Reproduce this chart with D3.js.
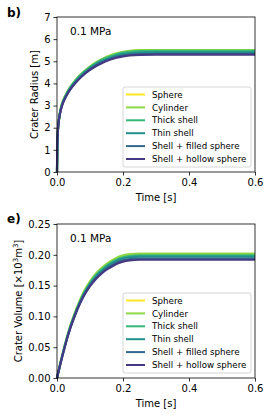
<!DOCTYPE html>
<html lang="en">
<head>
	<meta charset="UTF-8">
	<title>Crater growth</title>
	<script type="text/javascript" src="https://d3js.org/d3.v7.min.js"></script>
	<style>
		body { margin: 0; background: #fff; }
		svg { display: block; font-family: "DejaVu Sans", sans-serif; }
	</style>
</head>
<body>
	<svg id="chart" width="270" height="415"></svg>

	<script type="text/javascript">
		// time samples [s]
		var times = [0, 0.001, 0.003, 0.006, 0.01, 0.015, 0.02, 0.03, 0.04, 0.05, 0.06, 0.08, 0.1, 0.12, 0.14, 0.16, 0.18, 0.2, 0.22, 0.25, 0.3, 0.4, 0.5, 0.6];

		var seriesNames = ["Sphere", "Cylinder", "Thick shell", "Thin shell", "Shell + filled sphere", "Shell + hollow sphere"];
		var seriesColors = ["#fde725", "#8fd744", "#35b779", "#21918c", "#31688e", "#443983"];

		// crater radius [m]
		var radiusSphere   = [0, 1.30, 1.95, 2.40, 2.75, 3.05, 3.25, 3.55, 3.80, 4.00, 4.18, 4.48, 4.72, 4.92, 5.08, 5.20, 5.30, 5.37, 5.42, 5.45, 5.46, 5.46, 5.46, 5.46];
		var radiusCylinder = [0, 1.30, 1.95, 2.42, 2.78, 3.08, 3.28, 3.59, 3.84, 4.04, 4.22, 4.52, 4.77, 4.97, 5.13, 5.26, 5.36, 5.43, 5.47, 5.50, 5.51, 5.51, 5.51, 5.51];
		var radiusThick    = [0, 1.30, 1.95, 2.41, 2.77, 3.06, 3.26, 3.57, 3.82, 4.02, 4.20, 4.50, 4.74, 4.94, 5.10, 5.22, 5.32, 5.39, 5.43, 5.46, 5.47, 5.47, 5.47, 5.47];
		var radiusThin     = [0, 1.28, 1.93, 2.38, 2.73, 3.02, 3.22, 3.52, 3.77, 3.97, 4.14, 4.44, 4.68, 4.88, 5.03, 5.15, 5.25, 5.32, 5.36, 5.39, 5.40, 5.40, 5.40, 5.40];
		var radiusFilled   = [0, 1.27, 1.92, 2.37, 2.71, 3.00, 3.20, 3.50, 3.74, 3.94, 4.11, 4.40, 4.64, 4.83, 4.98, 5.10, 5.20, 5.26, 5.30, 5.33, 5.34, 5.34, 5.34, 5.34];
		var radiusHollow   = [0, 1.26, 1.90, 2.35, 2.69, 2.98, 3.18, 3.48, 3.72, 3.92, 4.09, 4.38, 4.61, 4.80, 4.95, 5.07, 5.16, 5.22, 5.26, 5.29, 5.30, 5.30, 5.30, 5.30];

		// crater volume [x10^3 m^3]
		var volumeSphere   = [0, 0.002, 0.007, 0.014, 0.023, 0.034, 0.045, 0.065, 0.083, 0.099, 0.113, 0.137, 0.155, 0.169, 0.179, 0.187, 0.193, 0.197, 0.199, 0.200, 0.200, 0.200, 0.200, 0.200];
		var volumeCylinder = [0, 0.002, 0.007, 0.014, 0.024, 0.035, 0.046, 0.066, 0.084, 0.100, 0.114, 0.139, 0.157, 0.171, 0.181, 0.189, 0.195, 0.199, 0.201, 0.202, 0.202, 0.202, 0.202, 0.202];
		var volumeThick    = [0, 0.002, 0.007, 0.014, 0.023, 0.034, 0.045, 0.065, 0.083, 0.098, 0.112, 0.136, 0.154, 0.168, 0.178, 0.186, 0.192, 0.196, 0.198, 0.199, 0.199, 0.199, 0.199, 0.199];
		var volumeThin     = [0, 0.002, 0.007, 0.014, 0.023, 0.034, 0.044, 0.064, 0.082, 0.097, 0.111, 0.135, 0.153, 0.166, 0.176, 0.184, 0.190, 0.194, 0.196, 0.197, 0.197, 0.197, 0.197, 0.197];
		var volumeFilled   = [0, 0.002, 0.007, 0.014, 0.023, 0.033, 0.044, 0.063, 0.081, 0.096, 0.110, 0.133, 0.150, 0.163, 0.173, 0.181, 0.187, 0.191, 0.193, 0.194, 0.194, 0.194, 0.194, 0.194];
		var volumeHollow   = [0, 0.002, 0.007, 0.013, 0.022, 0.033, 0.043, 0.063, 0.080, 0.095, 0.109, 0.132, 0.149, 0.162, 0.172, 0.179, 0.185, 0.189, 0.191, 0.192, 0.192, 0.192, 0.192, 0.192];

		var xTicks = [0, 0.2, 0.4, 0.6];
		var radiusTicks = [0, 1, 2, 3, 4, 5, 6, 7];
		var volumeTicks = [0, 0.05, 0.10, 0.15, 0.20, 0.25];

		var svg = d3.select("#chart");

		function drawPanel(opt) {
			var left = 57, right = 255;
			var x = d3.scaleLinear().domain([0, 0.6]).range([left, right]);
			var y = d3.scaleLinear().domain(opt.yDomain).range([opt.bottom, opt.top]);
			var g = svg.append("g");

			// lines
			var line = d3.line()
				.x(function(d, i) { return x(times[i]); })
				.y(function(d) { return y(d); })
				.curve(d3.curveMonotoneX);
			opt.series.forEach(function(s, k) {
				g.append("path")
					.attr("d", line(s))
					.attr("fill", "none")
					.attr("stroke", seriesColors[k])
					.attr("stroke-width", 2.2);
			});

			// axes
			var axX = d3.axisBottom(x).tickValues(xTicks).tickFormat(d3.format(".1f")).tickSizeInner(3.5).tickSizeOuter(0).tickPadding(3);
			var axY = d3.axisLeft(y).tickValues(opt.yTicks).tickFormat(opt.yFormat).tickSizeInner(3.5).tickSizeOuter(0).tickPadding(3);
			g.append("g")
				.attr("transform", "translate(0," + opt.bottom + ")")
				.call(axX);
			g.append("g")
				.attr("transform", "translate(" + left + ",0)")
				.call(axY);
			g.selectAll(".tick text").attr("font-size", 10).attr("font-family", "DejaVu Sans").attr("fill", "#000");
			g.selectAll(".tick line").attr("stroke", "#000").attr("stroke-width", 0.8);
			g.selectAll(".domain").remove();

			// frame
			g.append("rect")
				.attr("x", left).attr("y", opt.top)
				.attr("width", right - left).attr("height", opt.bottom - opt.top)
				.attr("fill", "none").attr("stroke", "#000").attr("stroke-width", 0.8);

			// labels
			g.append("text")
				.attr("x", (left + right) / 2).attr("y", opt.bottom + 29)
				.attr("text-anchor", "middle").attr("font-size", 10)
				.text("Time [s]");
			var yl = g.append("text")
				.attr("transform", "translate(" + opt.yLabelX + "," + ((opt.top + opt.bottom) / 2) + ") rotate(-90)")
				.attr("text-anchor", "middle").attr("font-size", 10);
			opt.yLabel(yl);

			g.append("text")
				.attr("x", 70).attr("y", opt.top + 18)
				.attr("font-size", 10.5)
				.text("0.1 MPa");

			g.append("text")
				.attr("x", 7).attr("y", opt.top + opt.panelDy)
				.attr("font-size", 12).attr("font-weight", "bold")
				.text(opt.panel);

			// legend
			var lg = g.append("g").attr("transform", "translate(123," + opt.legendTop + ")");
			lg.append("rect")
				.attr("width", 128).attr("height", 80)
				.attr("rx", 2)
				.attr("fill", "#fff").attr("fill-opacity", 0.8)
				.attr("stroke", "#ccc").attr("stroke-width", 0.8);
			seriesNames.forEach(function(name, k) {
				var cy = 7.5 + k * 12.9;
				lg.append("line")
					.attr("x1", 3).attr("x2", 22)
					.attr("y1", cy).attr("y2", cy)
					.attr("stroke", seriesColors[k]).attr("stroke-width", 2);
				lg.append("text")
					.attr("x", 29).attr("y", cy + 3.1)
					.attr("font-size", 8.7)
					.text(name);
			});
		}

		drawPanel({
			top: 17, bottom: 172,
			yDomain: [0, 7], yTicks: radiusTicks, yFormat: d3.format("d"),
			series: [radiusSphere, radiusCylinder, radiusThick, radiusThin, radiusFilled, radiusHollow],
			yLabelX: 38,
			yLabel: function(t) { t.text("Crater Radius [m]"); },
			panel: "b)", panelDy: 0,
			legendTop: 87
		});

		drawPanel({
			top: 224, bottom: 378,
			yDomain: [0, 0.25], yTicks: volumeTicks, yFormat: d3.format(".2f"),
			series: [volumeSphere, volumeCylinder, volumeThick, volumeThin, volumeFilled, volumeHollow],
			yLabelX: 22,
			yLabel: function(t) {
				t.append("tspan").text("Crater Volume [\u00d710");
				t.append("tspan").attr("font-size", 7).attr("dy", -4).text("3");
				t.append("tspan").attr("dy", 4).text("m");
				t.append("tspan").attr("font-size", 7).attr("dy", -4).text("3");
				t.append("tspan").attr("dy", 4).text("]");
			},
			panel: "e)", panelDy: -1,
			legendTop: 293
		});
	</script>
</body>
</html>
